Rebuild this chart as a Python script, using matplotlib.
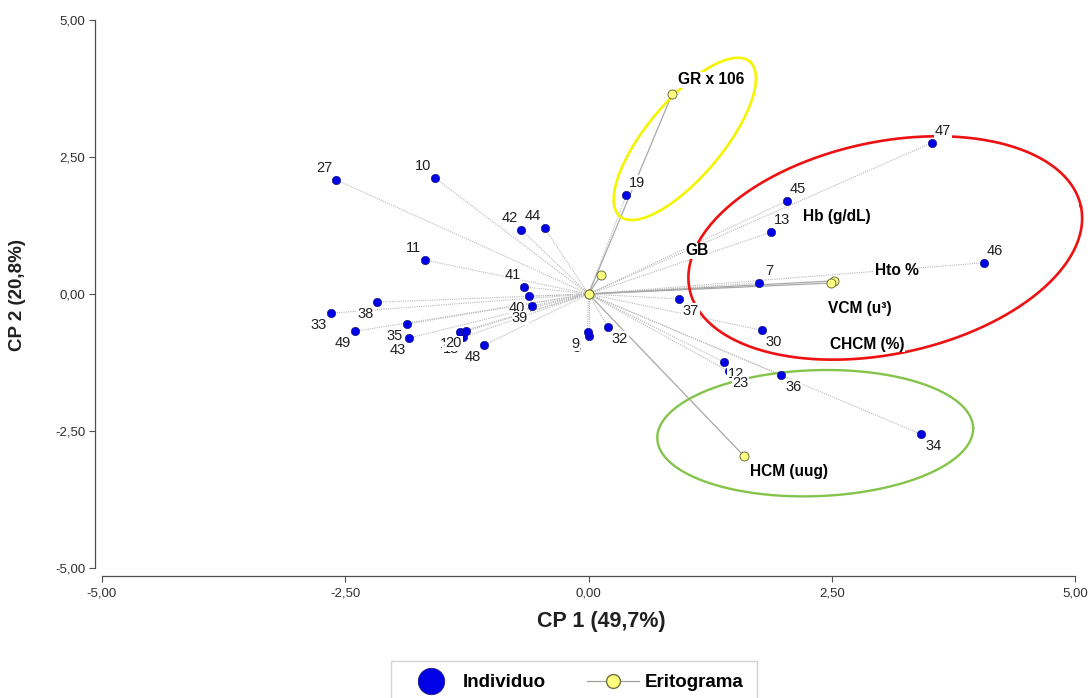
import numpy as np
import matplotlib
matplotlib.use("Agg")
import matplotlib.pyplot as plt
from matplotlib.lines import Line2D

plt.rcParams['font.family'] = ['Liberation Sans', 'DejaVu Sans']
plt.rcParams['axes.unicode_minus'] = False

# ---------------- data ----------------
ind_labels = ["27", "10", "42", "44", "11", "41", "40", "39", "38", "33", "49", "35", "43",
              "15", "18", "20", "48", "8", "9", "32", "37", "30", "12", "23", "36", "34",
              "7", "13", "45", "46", "47", "19"]
ind_x = [-2.59, -1.58, -0.69, -0.45, -1.68, -0.66, -0.61, -0.58, -2.17, -2.65, -2.40, -1.87, -1.84,
         -1.32, -1.29, -1.26, -1.07, 0.00, -0.01, 0.20, 0.93, 1.78, 1.39, 1.44, 1.98, 3.42,
         1.75, 1.88, 2.04, 4.06, 3.53, 0.39]
ind_y = [2.08, 2.12, 1.17, 1.20, 0.62, 0.13, -0.04, -0.22, -0.15, -0.35, -0.68, -0.55, -0.80,
         -0.69, -0.79, -0.68, -0.93, -0.77, -0.69, -0.60, -0.09, -0.66, -1.24, -1.41, -1.48, -2.56,
         0.20, 1.13, 1.70, 0.57, 2.76, 1.81]

var_names = ["GR x 106", "GB", "Hb (g/dL)", "Hto %", "VCM (u³)", "CHCM (%)", "HCM (uug)"]
var_x = [0.86, 0.13, 0.01, 2.52, 2.49, 0.00, 1.60]
var_y = [3.65, 0.35, 0.005, 0.24, 0.20, 0.00, -2.96]

x_ticks = [-5.0, -2.5, 0.0, 2.5, 5.0]
y_ticks = [-5.0, -2.5, 0.0, 2.5, 5.0]

# ---------------- layout / style ----------------
dir_off = {'ur': (11, 12), 'ul': (-12, 12), 'dl': (-12, -12), 'dr': (12, -12)}
ind_dir = ['ul', 'ul', 'ul', 'ul', 'ul', 'ul', 'dl', 'dl', 'dl', 'dl', 'dl', 'dl', 'dl',
           'dl', 'dl', 'dl', 'dl', 'dl', 'dl', 'dr', 'dr', 'dr', 'dr', 'dr', 'dr', 'dr',
           'ur', 'ur', 'ur', 'ur', 'ur', 'ur']
var_label_off = [(39, 14), (96, 24), (247, 77), (63, 10), (29, -25), (279, -50), (45, -15)]

W, H = 1091, 698
fig = plt.figure(figsize=(W / 100, H / 100), dpi=100)
ax_left, ax_right, ax_top, ax_bot = 102, 1075, 20, 568
ax = fig.add_axes([ax_left / W, 1 - ax_bot / H, (ax_right - ax_left) / W, (ax_bot - ax_top) / H])
ax.set_xlim(-5, 5)
ax.set_ylim(-5, 5)
sx = (ax_right - ax_left) / 10.0
sy = (ax_bot - ax_top) / 10.0

for s in ['top', 'right']:
    ax.spines[s].set_visible(False)
ax.spines['left'].set_position(('outward', 5))
ax.spines['bottom'].set_position(('outward', 6))
for s in ['left', 'bottom']:
    ax.spines[s].set_color('#505050')
    ax.spines[s].set_linewidth(0.9)

fmt = lambda v: f"{v:.2f}".replace('.', ',')
ax.set_xticks(x_ticks)
ax.set_yticks(y_ticks)
ax.set_xticklabels([fmt(v) for v in x_ticks], fontsize=9.5, color='#303030')
ax.set_yticklabels([fmt(v) for v in y_ticks], fontsize=9.5, color='#303030')
ax.tick_params(axis='both', direction='out', length=4, width=0.8, color='#505050')
ax.tick_params(axis='x', pad=4)
ax.tick_params(axis='y', pad=3)

for x, y in zip(ind_x, ind_y):
    ax.plot([0, x], [0, y], color='#b8b8b8', lw=0.8, ls=(0, (1, 1)), zorder=1)
for x, y in zip(var_x, var_y):
    ax.plot([0, x], [0, y], color='#a8a8a8', lw=0.9, zorder=1.2)

ellipses = [
    dict(c=(0.99, 2.83), a=101, b=38, ang=50, color='#f5f500', lw=1.9),
    dict(c=(3.05, 0.84), a=200, b=106, ang=12, color='#ee1111', lw=1.9),
    dict(c=(2.33, -2.54), a=158, b=63, ang=2, color='#84c44a', lw=1.7),
]
t = np.linspace(0, 2 * np.pi, 400)
for e in ellipses:
    th = np.deg2rad(e['ang'])
    px = e['a'] * np.cos(t) * np.cos(th) - e['b'] * np.sin(t) * np.sin(th)
    py = e['a'] * np.cos(t) * np.sin(th) + e['b'] * np.sin(t) * np.cos(th)
    ax.plot(e['c'][0] + px / sx, e['c'][1] + py / sy, color=e['color'], lw=e['lw'],
            zorder=2.5, clip_on=False)

ax.plot(ind_x, ind_y, 'o', color='#0000e6', markeredgecolor='#1a1a80', markeredgewidth=0.5,
        markersize=6, ls='none', zorder=3)
ax.plot(var_x, var_y, 'o', color='#ffff80', markeredgecolor='#707040', markeredgewidth=0.7,
        markersize=6.5, ls='none', zorder=3.2)

for i, (lab, x, y) in enumerate(zip(ind_labels, ind_x, ind_y)):
    dx, dy = dir_off[ind_dir[i]]
    ax.annotate(lab, (x, y), xytext=(dx * 0.72, dy * 0.72), textcoords='offset points',
                ha='center', va='center', fontsize=10.5, color='#202020', zorder=4 + i * 0.001,
                bbox=dict(facecolor='white', edgecolor='none', pad=0.3))

for name, x, y, (dx, dy) in zip(var_names, var_x, var_y, var_label_off):
    ax.annotate(name, (x, y), xytext=(dx * 0.72, dy * 0.72), textcoords='offset points',
                ha='center', va='center', fontsize=11.2, fontweight='bold', color='black', zorder=5,
                bbox=dict(facecolor='white', edgecolor='none', pad=0.3))

fig.text(601 / W, 1 - 621 / H, "CP 1 (49,7%)", ha='center', va='center', fontsize=15.5,
         fontweight='bold', color='#202020')
fig.text(18 / W, 1 - 295 / H, "CP 2 (20,8%)", ha='center', va='center', fontsize=13.5,
         fontweight='bold', color='#202020', rotation=90)

handles = [
    Line2D([], [], marker='o', ls='none', color='#0000e6', markeredgecolor='#1a1a80',
           markersize=19, markeredgewidth=0.6),
    Line2D([], [], marker='o', color='#a0a0a0', lw=0.9, markerfacecolor='#ffff80',
           markeredgecolor='#707040', markersize=10),
]
leg = fig.legend(handles, ["Individuo", "Eritograma"], loc='upper center',
                 bbox_to_anchor=(574 / W, 1 - 661 / H), ncol=2, frameon=True, fancybox=False,
                 prop=dict(weight='bold', size=13.5), handlelength=2.8, handletextpad=0.3,
                 columnspacing=2.2, borderpad=0.7, borderaxespad=0)
leg.get_frame().set_edgecolor('#c8c8c8')
leg.get_frame().set_linewidth(1.0)

fig.savefig("out.png", dpi=100)
